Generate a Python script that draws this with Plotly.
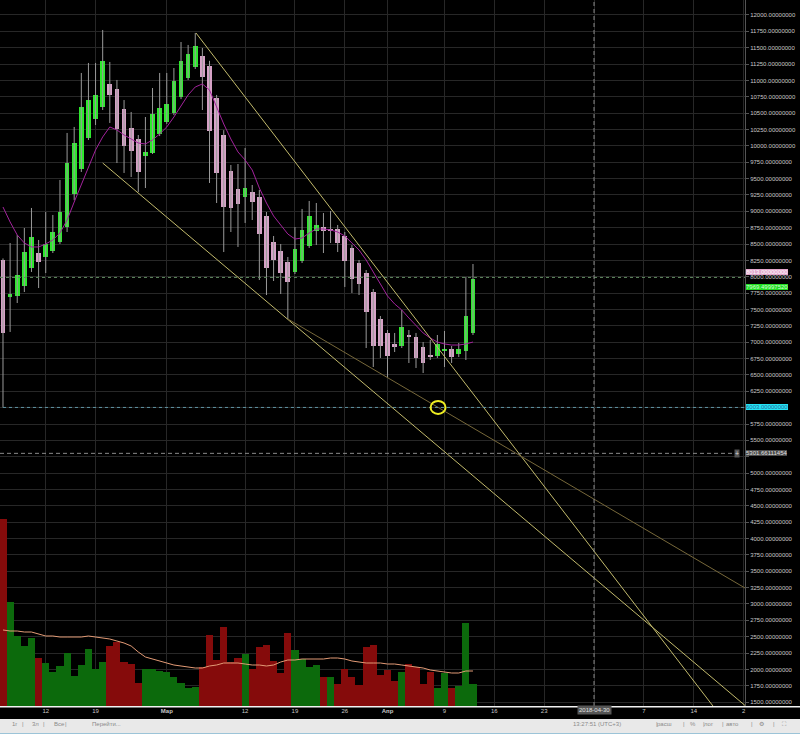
import plotly.graph_objects as go
from datetime import datetime, timedelta

# ---------------- data (daily BTC candles) ----------------
start = datetime(2018, 2, 6)

opens = [8256, 7691, 7706, 7859, 8134, 8363, 8302, 8394, 8531, 8760,
         9265, 9647, 10120, 10411, 10594, 10946, 10869, 10563, 10273, 10105,
         9845, 9891, 10182, 10365, 10502, 10747, 11037, 11205, 11373, 11221,
         10732, 10166, 9616, 9341, 9219, 9295, 9219, 8929, 8531, 8394,
         8226, 8073, 8241, 8470, 8699, 8760, 8730, 8730, 8623, 8440,
         8210, 8057, 7767, 7355, 7141, 6973, 6942, 7095, 7080, 6927,
         6804, 6789, 6866, 6896, 6820, 6866, 7141]
highs = [8280, 8516, 8638, 8745, 9051, 8562, 8990, 8944, 9479, 10197,
         10289, 11114, 11267, 11267, 11771, 11282, 11007, 10700, 10518, 10166,
         10441, 10884, 11114, 11114, 11190, 11587, 11542, 11725, 11496, 11300,
         10778, 10240, 9708, 9723, 9968, 9402, 9326, 8990, 8623, 8501,
         8302, 8760, 9036, 9158, 9127, 8974, 9005, 8791, 8684, 8485,
         8256, 8103, 7813, 7400, 7186, 7141, 7492, 7186, 7141, 7003,
         7034, 7110, 7171, 6942, 6988, 7996, 8195]
lows = [6003, 7156, 7599, 7767, 8073, 7828, 8057, 8363, 8501, 8684,
        9170, 9601, 10090, 10319, 10548, 10350, 9738, 9586, 9524, 9295,
        9356, 9876, 10150, 10335, 10470, 10715, 11007, 11175, 10548, 9433,
        9127, 8378, 8684, 8455, 8822, 8867, 7950, 7721, 7935, 7737,
        7355, 8042, 8210, 8440, 8485, 8363, 8516, 8378, 7844, 7752,
        7721, 6911, 6621, 6759, 6453, 6850, 6911, 6682, 6606, 6529,
        6728, 6759, 6621, 6682, 6774, 6728, 7110]
closes = [7141, 7737, 8027, 8378, 8608, 8226, 8501, 8684, 8990, 9738,
          10044, 10594, 10701, 10778, 11297, 10778, 10258, 9998, 9922, 9601,
          9907, 10487, 10579, 10640, 10991, 11297, 11404, 11526, 11053, 10227,
          9586, 9066, 9051, 9112, 9356, 9142, 8653, 8134, 8256, 8057,
          7920, 8424, 8715, 8929, 8791, 8699, 8699, 8516, 8241, 7966,
          7889, 7462, 6942, 6942, 6789, 6927, 7232, 7080, 6759, 6682,
          6774, 6973, 6896, 6774, 6896, 7400, 7969.4999752]
price_ma = [9066, 8837, 8638, 8516, 8455, 8455, 8501, 8562, 8669, 8867,
            9142, 9402, 9677, 9937, 10136, 10289, 10243, 10166, 10105, 10044,
            10029, 10090, 10182, 10289, 10441, 10609, 10778, 10900, 10946, 10854,
            10594, 10334, 10105, 9907, 9784, 9631, 9356, 9127, 8929, 8791,
            8653, 8577, 8592, 8669, 8730, 8730, 8715, 8684, 8623, 8516,
            8409, 8256, 8073, 7874, 7706, 7584, 7492, 7370, 7248, 7141,
            7064, 7003, 6973, 6957, 6957, 6973, 7003]
volume = [18700, 10400, 7000, 6000, 6800, 4800, 4300, 3400, 4000, 5300,
          3000, 4100, 5700, 3700, 4400, 6000, 6400, 4400, 4200, 2300,
          3700, 3700, 3500, 3400, 2900, 2300, 1800, 1900, 3900, 7100,
          4600, 7900, 4400, 4800, 5200, 3700, 5900, 6100, 4500, 3300,
          7300, 5600, 4700, 3900, 4100, 2900, 2900, 2200, 3700, 2900,
          2100, 5900, 6100, 3100, 3600, 2500, 3400, 4200, 3900, 2200,
          3400, 1800, 3300, 1800, 2000, 8300, 2200]
volume_dir = ("D" + "UUUU" + "D" + "UUUUUUUUU" + "DDDDD" + "UUUUUUUU" + "DDDDDD" + "U" +
              "DDDDDD" + "UUUU" + "D" + "U" + "DDDDDDDDD" + "U" + "DDDD" + "UU" + "D" + "UUU")
volume_ma = [7600, 7500, 7500, 7400, 7400, 7200, 7000, 7000, 6900, 6900,
             6900, 6900, 7000, 6900, 6800, 6700, 6500, 6300, 6000, 5400,
             4900, 4700, 4500, 4300, 4100, 4000, 3900, 3800, 3800, 4000,
             4100, 4300, 4300, 4300, 4200, 4100, 4100, 4000, 4100, 4400,
             4600, 4600, 4700, 4700, 4700, 4700, 4800, 4800, 4700, 4500,
             4400, 4300, 4300, 4300, 4200, 4200, 4100, 4000, 3900, 3800,
             3600, 3500, 3400, 3300, 3300, 3500, 3500]

tick_dates = ["2018-02-12", "2018-02-19", "2018-03-01", "2018-03-12", "2018-03-19",
              "2018-03-26", "2018-04-01", "2018-04-09", "2018-04-16", "2018-04-23",
              "2018-04-30", "2018-05-07", "2018-05-14", "2018-05-21"]
tick_text = ["12", "19", "<b>Мар</b>", "12", "19", "26", "<b>Апр</b>", "9", "16", "23",
             "", "7", "14", "2"]

price_ticks = list(range(1500, 12001, 250))
hidden_price_ticks = [6000, 5250]   # covered by the level / crosshair labels
price_tick_text = ["" if v in hidden_price_ticks else f"{v:.8f}" for v in price_ticks]

# drawings: (day offset from start, price)
trend_a = [(27.1, 11725), (99.7, 1441)]
trend_b = [(14.0, 9738), (104.2, 1449)]
trend_c = [(40.0, 7355), (104.2, 3244)]
level_high = 8013.0
level_last = 7969.4999752
level_low = 6003.0
cross_price = 5301.66111454
cross_date = "2018-04-30"

# ---------------- helpers ----------------
DAY_MS = 86400000


def day(t):
    return (start + timedelta(days=t)).strftime("%Y-%m-%d %H:%M:%S")


dates = [day(i) for i in range(len(opens))]
GREEN = "#2ee82e"
PINK = "#d6a2c6"

fig = go.Figure()

# volume (secondary axis, overlaid)
fig.add_trace(go.Bar(
    x=dates, y=volume, yaxis="y2", width=DAY_MS,
    marker=dict(color=["#0c6a0c" if d == "U" else "#850b0b" for d in volume_dir],
                line=dict(width=0)),
    hoverinfo="skip"))
fig.add_trace(go.Scatter(
    x=dates, y=volume_ma, yaxis="y2", mode="lines",
    line=dict(color="#e39b76", width=1), hoverinfo="skip"))

# wicks
wx, wy = [], []
for d, lo, hi in zip(dates, lows, highs):
    wx += [d, d, None]
    wy += [lo, hi, None]
fig.add_trace(go.Scatter(x=wx, y=wy, mode="lines",
                         line=dict(color="#9a9a9a", width=1), hoverinfo="skip"))

# bodies
base = [min(o, c) for o, c in zip(opens, closes)]
height = [max(abs(c - o), 16) for o, c in zip(opens, closes)]
colors = [GREEN if c >= o else PINK for o, c in zip(opens, closes)]
fig.add_trace(go.Bar(x=dates, y=height, base=base, width=0.66 * DAY_MS,
                     marker=dict(color=colors, line=dict(width=0)), hoverinfo="skip"))

# moving average of price
fig.add_trace(go.Scatter(x=dates, y=price_ma, mode="lines",
                         line=dict(color="#a3239d", width=1), hoverinfo="skip"))

shapes = []
# trend lines
for pts, col, w in [(trend_a, "#c2ba6c", 1), (trend_b, "#c2ba6c", 1), (trend_c, "#77683a", 1)]:
    shapes.append(dict(type="line", xref="x", yref="y",
                       x0=day(pts[0][0]), y0=pts[0][1], x1=day(pts[1][0]), y1=pts[1][1],
                       line=dict(color=col, width=w)))
# last price line
shapes.append(dict(type="line", xref="paper", yref="y", x0=0, x1=1,
                   y0=level_last + 20, y1=level_last + 20,
                   line=dict(color="#5f8a5f", width=1, dash="dot")))
# 6003 level line from first candle
shapes.append(dict(type="line", xref="x", yref="y", x0=dates[0], x1=day(104.3),
                   y0=level_low, y1=level_low,
                   line=dict(color="#5e93a3", width=1, dash="dot")))
# crosshair
shapes.append(dict(type="line", xref="x", yref="paper", x0=cross_date, x1=cross_date,
                   y0=0, y1=1, line=dict(color="#8a8a8a", width=1, dash="4px,3px")))
shapes.append(dict(type="line", xref="paper", yref="y", x0=0, x1=0.988,
                   y0=cross_price, y1=cross_price,
                   line=dict(color="#8a8a8a", width=1, dash="4px,3px")))
# yellow circle
shapes.append(dict(type="circle", xref="x", yref="y", x0=day(60.05), x1=day(62.15),
                   y0=level_low - 100, y1=level_low + 100,
                   line=dict(color="#eeee22", width=2)))
# bottom separator and toolbar
shapes.append(dict(type="line", xref="paper", yref="paper", x0=0, x1=800 / 745,
                   y0=-0.0012, y1=-0.0012, line=dict(color="#f2f2f2", width=1.5)))
shapes.append(dict(type="rect", xref="paper", yref="paper", x0=0, x1=800 / 745,
                   y0=-13 / 706, y1=-28 / 706, fillcolor="#e9e9e9",
                   line=dict(width=0), layer="above"))
shapes.append(dict(type="line", xref="paper", yref="paper", x0=0, x1=800 / 745,
                   y0=-27.5 / 706, y1=-27.5 / 706, line=dict(color="#9cc4d8", width=1)))

annotations = []


def price_label(y, text, bg, fg, yshift=0):
    annotations.append(dict(x=1, xref="paper", y=y, yref="y", xanchor="left",
                            xshift=1, yshift=yshift, text=text, showarrow=False,
                            bgcolor=bg, font=dict(size=6, color=fg),
                            borderpad=0, borderwidth=0))


price_label(level_high, "8013.00000000", "#e2a6cb", "#ffffff", yshift=4)
price_label(level_last, "7969.49997520", "#22dd22", "#d8ffd8", yshift=-8)
price_label(level_low, "6003.00000000", "#22e4f4", "#2a6a9a")
price_label(cross_price, "5301.66111454", "#4a4a4a", "#e0e0e0")
annotations.append(dict(x=740 / 745, xref="paper", y=cross_price, yref="y",
                        text="+", showarrow=False, bgcolor="#555555",
                        font=dict(size=7, color="#dddddd"), borderpad=0))
annotations.append(dict(x=cross_date, xref="x", y=-9 / 706, yref="paper",
                        text="2018-04-30", showarrow=False, bgcolor="#565656",
                        font=dict(size=6, color="#e0e0e0"), borderpad=1))

toolbar_left = [(12, "1г"), (22, "|"), (32, "3л"), (43, "|"), (54, "Все"), (65, "|"),
                (92, "Перейти...")]
toolbar_right = [(621, "13:27:51 (UTC+3)"), (658, "|"), (672, "расш"), (685, "|"),
                 (696, "%"), (705, "|"), (714, "лог"), (724, "|"), (739, "авто"),
                 (753, "|"), (764, "⚙"), (775, "|"), (787, "⛶")]
for px, t in toolbar_left + toolbar_right:
    annotations.append(dict(x=px / 745, xref="paper", y=-20.5 / 706, yref="paper",
                            text=t, showarrow=False, borderpad=0, borderwidth=0,
                            font=dict(size=6, color="#8a8a8a")))

fig.update_layout(
    width=800, height=734,
    margin=dict(l=0, r=55, t=0, b=28),
    paper_bgcolor="#000000", plot_bgcolor="#000000",
    showlegend=False, barmode="overlay", bargap=0,
    font=dict(family="Liberation Sans, Arial, sans-serif", size=6, color="#c8c8c8"),
    xaxis=dict(type="date", range=[day(-0.42), day(104.2)],
               tickmode="array", tickvals=tick_dates, ticktext=tick_text,
               showgrid=True, gridcolor="#272727", gridwidth=1,
               zeroline=False, showline=False, ticks="", tickangle=0,
               tickfont=dict(size=6, color="#c8c8c8"), fixedrange=True),
    yaxis=dict(side="right", range=[1441, 12229],
               tickmode="array", tickvals=price_ticks, ticktext=price_tick_text,
               showgrid=True, gridcolor="#272727", gridwidth=1,
               ticks="outside", ticklen=3, tickcolor="#555555",
               showline=True, linecolor="#555555", linewidth=1,
               zeroline=False, tickfont=dict(size=6, color="#c8c8c8")),
    yaxis2=dict(overlaying="y", range=[0, 70600], visible=False, showgrid=False),
    shapes=shapes, annotations=annotations,
)

fig.write_html("out.html", config={"displayModeBar": False},
               post_script="document.body.style.margin='0';document.body.style.overflow='hidden';")
